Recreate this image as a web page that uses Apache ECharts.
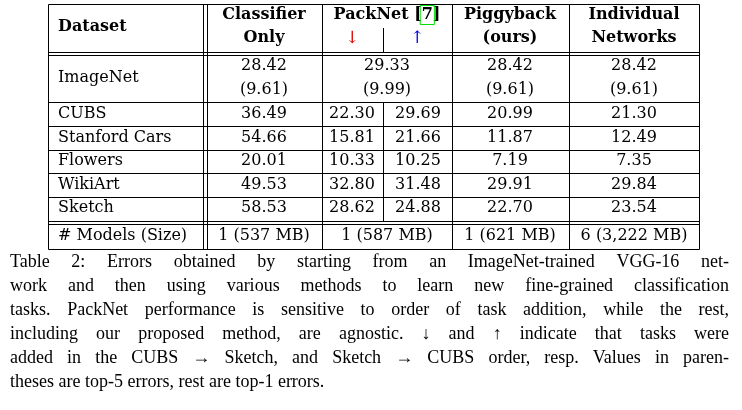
<!DOCTYPE html>
<html><head><meta charset="utf-8">
<script src="https://cdn.jsdelivr.net/npm/echarts@6/dist/echarts.min.js"></script>
<style>html,body{margin:0;background:#fff}#c{width:742px;height:410px}</style>
</head><body><div id="c"></div>
<script>
const datasets = ['CUBS','Stanford Cars','Flowers','WikiArt','Sketch'];
const classifierOnly = ['36.49','54.66','20.01','49.53','58.53'];
const packnetDown = ['22.30','15.81','10.33','32.80','28.62'];
const packnetUp = ['29.69','21.66','10.25','31.48','24.88'];
const piggyback = ['20.99','11.87','7.19','29.91','22.70'];
const individual = ['21.30','12.49','7.35','29.84','23.54'];
const imagenetTop1 = ['28.42','29.33','28.42','28.42'];
const imagenetTop5 = ['(9.61)','(9.99)','(9.61)','(9.61)'];
const models = ['1 (537 MB)','1 (587 MB)','1 (621 MB)','6 (3,222 MB)'];
const caption = [
 'Table 2: Errors obtained by starting from an ImageNet-trained VGG-16 net-',
 'work and then using various methods to learn new fine-grained classification',
 'tasks. PackNet performance is sensitive to order of task addition, while the rest,',
 'including our proposed method, are agnostic. \u2193 and \u2191 indicate that tasks were',
 'added in the CUBS \u2192 Sketch, and Sketch \u2192 CUBS order, resp. Values in paren-',
 'theses are top-5 errors, rest are top-1 errors.'
];

const F = '"DejaVu Serif","Liberation Serif",serif';
const FC = '"Liberation Serif","DejaVu Serif",serif';
const ctx = document.createElement('canvas').getContext('2d');
function W(s,font){ctx.font=font;return ctx.measureText(s).width;}
const els = [];
function T(x,y,s,o={}){els.push({type:'text',x,y,style:{text:s,fill:o.fill||'#000',font:o.font||((o.bold?'bold ':'')+(o.size||16)+'px '+F),align:o.align||'center',verticalAlign:'middle'}});}
function H(x1,x2,y){els.push({type:'line',shape:{x1,y1:y,x2,y2:y},style:{stroke:'#000',lineWidth:1}});}
function V(x,y1,y2){els.push({type:'line',shape:{x1:x,y1,x2:x,y2},style:{stroke:'#000',lineWidth:1}});}
const L=48.5,R=699.5, C=[203.5,207.5,322.5,383.5,452.5,569.5];
const rowY=[114,138,161,185,208];
[4.5,52.5,55.5,102.5,126.5,150.5,173.5,197.5,221.5,224.5,249.5].forEach(y=>H(L,R,y));
[L,R,C[0],C[1],C[2],C[4],C[5]].forEach(x=>V(x,4.5,249.5));
V(C[3],28,52.5); V(C[3],102.5,221.5);
T(58,27,'Dataset',{bold:1,align:'left'});
T(264,15,'Classifier',{bold:1}); T(264,38,'Only',{bold:1});
// PackNet [7] with green box around 7
const hf='bold 16px '+F;
const p1='PackNet [', p2='7', p3=']';
const tw=W(p1+p2+p3,hf), x0=387-tw/2;
T(x0,15,p1,{font:hf,align:'left'});
const x7=x0+W(p1,hf);
T(x7,15,p2,{font:hf,align:'left'});
T(x7+W(p2,hf),15,p3,{font:hf,align:'left'});
els.push({type:'rect',shape:{x:x7-1.5,y:5.5,width:W(p2,hf)+3,height:19},style:{fill:'none',stroke:'#00e000',lineWidth:1}});
T(352,39,'\u2193',{size:17,fill:'#e00000'}); T(417,39,'\u2191',{size:17,fill:'#0000ee'});
T(510,15,'Piggyback',{bold:1}); T(510,38,'(ours)',{bold:1});
T(634,15,'Individual',{bold:1}); T(634,38,'Networks',{bold:1});
const cx=[264,387,510,634];
T(58,78,'ImageNet',{align:'left'});
imagenetTop1.forEach((v,i)=>T(cx[i],66,v));
imagenetTop5.forEach((v,i)=>T(cx[i],90,v));
datasets.forEach((d,i)=>{const y=rowY[i];
 T(58,y,d,{align:'left'});
 T(264,y,classifierOnly[i]); T(352,y,packnetDown[i]); T(418,y,packnetUp[i]);
 T(510,y,piggyback[i]); T(634,y,individual[i]);});
T(58,236,'# Models (Size)',{align:'left'});
models.forEach((v,i)=>T(cx[i],236,v));
// justified caption
const cf='18px '+FC, CL=10, CR=729;
caption.forEach((s,i)=>{
 const y=262+i*24, words=s.split(' ');
 if(i===caption.length-1){T(CL,y,s,{font:cf,align:'left'});return;}
 const ws=words.map(w=>W(w,cf)), tot=ws.reduce((a,b)=>a+b,0);
 const gap=(CR-CL-tot)/(words.length-1);
 let x=CL; words.forEach((w,j)=>{T(x,y,w,{font:cf,align:'left'});x+=ws[j]+gap;});
});
const chart=echarts.init(document.getElementById('c'));
chart.setOption({animation:false,graphic:{elements:els}});
</script></body></html>
